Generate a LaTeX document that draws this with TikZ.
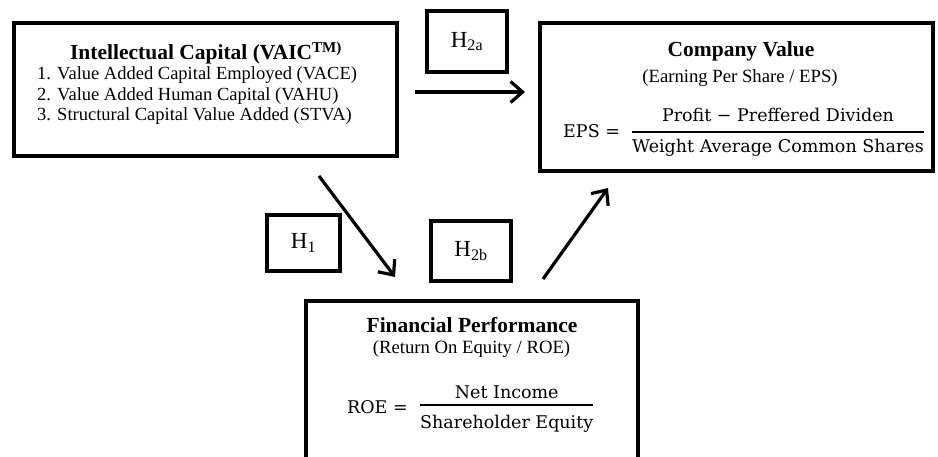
\documentclass[tikz,border=0pt]{standalone}
\usepackage{fontspec}
\setmainfont{Liberation Serif}
\newfontfamily\eqfamily{DejaVu Serif}
\usetikzlibrary{calc}
\usetikzlibrary{arrows.meta}

\newcommand{\headfont}{\fontsize{21.5}{24}\selectfont\bfseries}
\newcommand{\itemfont}{\fontsize{18.5}{20}\selectfont}
\newcommand{\subfont}{\fontsize{18.7}{20}\selectfont}
\newcommand{\eqfont}{\fontsize{17.5}{20}\selectfont\eqfamily}

\tikzset{
  frame/.style={draw, line width=3.5pt, inner sep=0pt},
  hbox/.style={frame, minimum width=80pt, minimum height=61pt, font=\fontsize{23}{26}\selectfont},
  txt/.style={inner sep=0pt},
  link/.style={line width=3.2pt, -{Straight Barb[length=12pt, width=21pt]}},
  fracline/.style={line width=1.5pt},
}

\begin{document}
\begin{tikzpicture}[x=1pt,y=-1pt]
    \useasboundingbox (0,0) rectangle (938,457);
    \clip (0,0) rectangle (938,457);

    % the three boxes
    \node[frame, minimum width=383pt, minimum height=133pt] (ic) at (205.5,89.5) {};
    \node[frame, minimum width=393pt, minimum height=148pt] (cv) at (736.5,97) {};
    \node[frame, minimum width=332pt, minimum height=180pt] (fp) at (472,391) {};

    % hypotheses
    \node[hbox] (h2a) at (467,41.5) {H\textsubscript{2a}};
    \node[hbox, minimum width=73pt, minimum height=56pt] (h1) at (303.5,243) {H\textsubscript{1}};
    \node[hbox, minimum height=60pt] (h2b) at (471,251) {H\textsubscript{2b}};

    % intellectual capital
    \node[txt, anchor=base, font=\headfont] (ictitle) at (206,60) {Intellectual Capital (VAIC\textsuperscript{TM)}};
    \node[txt, anchor=base west, font=\itemfont] (ic1) at (37,80) {1. Value Added Capital Employed (VACE)};
    \node[txt, anchor=base west, font=\itemfont] (ic2) at (37,100.5) {2. Value Added Human Capital (VAHU)};
    \node[txt, anchor=base west, font=\itemfont] (ic3) at (37,121) {3. Structural Capital Value Added (STVA)};

    % company value
    \node[txt, anchor=base, font=\headfont] (cvtitle) at (741,57) {Company Value};
    \node[txt, anchor=base, font=\subfont] (cvsub) at (740,83) {(Earning Per Share / EPS)};
    \node[txt, anchor=base west, font=\eqfont] (eps) at (563,138) {EPS =};
    \node[txt, anchor=base west, font=\eqfont] (epsden) at (632,153) {Weight Average Common Shares};
    \node[txt, anchor=base, font=\eqfont] (epsnum) at (epsden.base |- 0,122) {Profit − Preffered Dividen};
    \draw[fracline] (epsden.west |- 0,132) -- (epsden.east |- 0,132);

    % financial performance
    \node[txt, anchor=base, font=\headfont] (fptitle) at (472,333) {Financial Performance};
    \node[txt, anchor=base, font=\subfont] (fpsub) at (471.5,353) {(Return On Equity / ROE)};
    \node[txt, anchor=base west, font=\eqfont] (roe) at (347,413) {ROE =};
    \node[txt, anchor=base west, font=\eqfont] (roeden) at (420,428) {Shareholder Equity};
    \node[txt, anchor=base, font=\eqfont] (roenum) at (roeden.base |- 0,398) {Net Income};
    \draw[fracline] (roeden.west |- 0,405) -- (roeden.east |- 0,405);

    % arrows
    \coordinate (icout) at (415,92);
    \coordinate (cvin) at (525,92);
    \coordinate (icdown) at (319,176);
    \coordinate (fpin) at (395,277);
    \coordinate (fpout) at (543,279);
    \coordinate (cvup) at (608,188);
    \draw[link] (icout) -- (cvin);
    \draw[link] (icdown) -- (fpin);
    \draw[link] (fpout) -- (cvup);
\end{tikzpicture}
\end{document}
